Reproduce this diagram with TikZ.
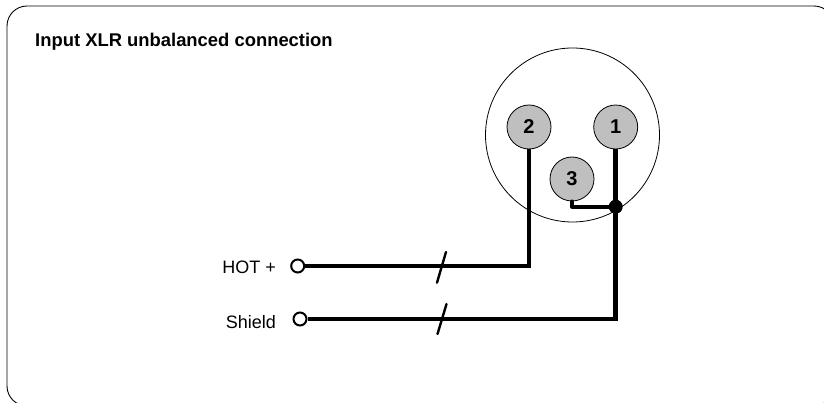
\documentclass[tikz,border=0pt]{standalone}
\usepackage{fontspec}
\setmainfont{Liberation Sans}
\begin{document}
\begin{tikzpicture}[x=1pt,y=-1pt,
  frame/.style={draw=black,line width=0.9pt,rounded corners=20pt},
  pin/.style={circle,draw=black,fill=black!25,line width=0.8pt,minimum size=44pt,inner sep=0pt,font=\bfseries\fontsize{20}{23}\selectfont},
  shell/.style={circle,draw=black,line width=0.8pt,minimum size=174pt,inner sep=0pt},
  wire/.style={line width=4.6pt,black},
  thin wire/.style={line width=3.8pt,black,line cap=round,line join=round},
  term/.style={circle,draw=black,fill=white,line width=2pt,minimum size=13pt,inner sep=0pt},
  dot/.style={circle,fill=black,minimum size=14pt,inner sep=0pt},
  label/.style={font=\fontsize{18}{21}\selectfont,inner sep=0pt},
  tick/.style={line width=2.4pt,line cap=round}]
\useasboundingbox (0,0) rectangle (824,403);
\draw[frame] (7,6) rectangle (834,406);
\node[font=\bfseries\fontsize{18.4}{21}\selectfont,inner sep=0pt,anchor=base west] (title) at (35,46.5) {Input XLR unbalanced connection};
\node[shell] (shell) at (572.5,135) {};
\node[pin] (p2) at (529,127) {2};
\node[pin] (p1) at (615.7,127) {1};
\node[pin] (p3) at (572,179) {3};
\node[term] (hot) at (297.7,266) {};
\node[term] (shield) at (300,319) {};
\node[label,anchor=base east] (hotl) at (276,273) {HOT +};
\node[label,anchor=base east] (shieldl) at (276,328) {Shield};
\coordinate (c2) at (529,266);
\coordinate (c1) at (615.7,319);
\coordinate (c3) at (572,206.7);
\coordinate (jc) at (615.7,206.7);
\draw[wire,line join=miter] (hot.east) -- (c2) -- (p2.south);
\draw[wire,line join=miter] (shield.east) -- (c1) -- (p1.south);
\draw[thin wire] (p3.south) -- (c3) -- (jc);
\node[dot] (j) at (jc) {};
\coordinate (ha) at (437,282.7); \coordinate (hb) at (446,252);
\coordinate (sa) at (437.5,334); \coordinate (sb) at (446.5,304);
\draw[tick] (ha) -- (hb);
\draw[tick] (sa) -- (sb);
\end{tikzpicture}
\end{document}
